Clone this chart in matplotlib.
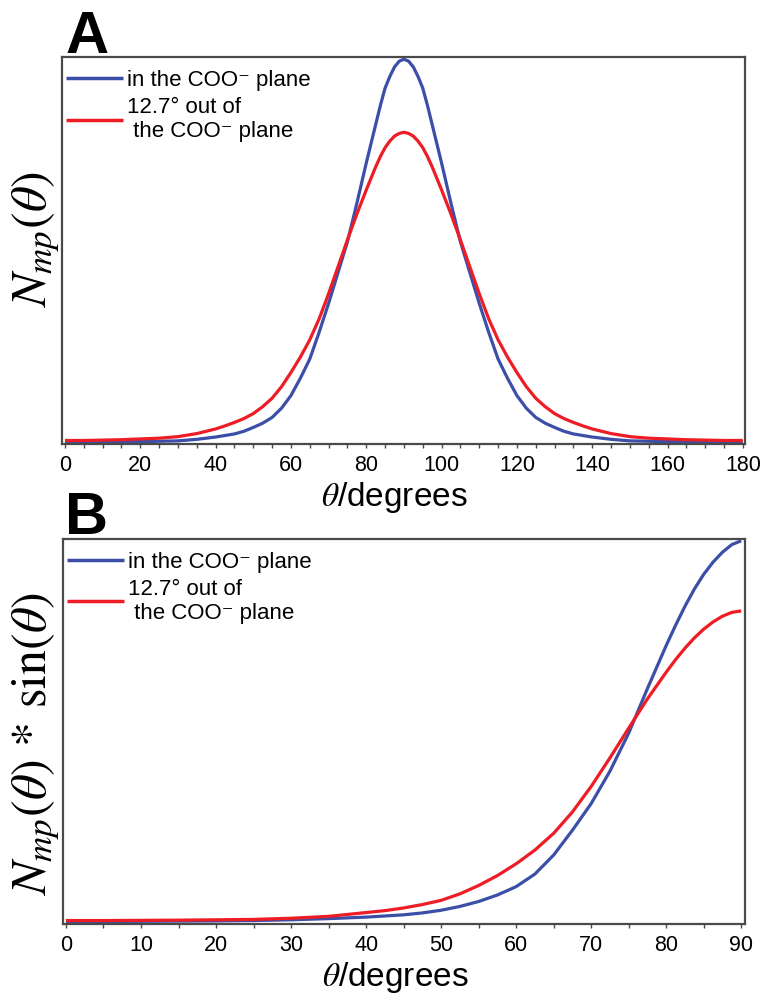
import matplotlib
matplotlib.use("Agg")
import matplotlib.pyplot as plt
from matplotlib.ticker import MultipleLocator

plt.rcParams['mathtext.fontset'] = 'stix'

# ---------------- data ----------------
theta_a = [0, 5, 10, 15, 20, 25, 30, 35, 40, 42.5, 45, 47.5, 50, 52.5, 55, 57.5, 60,
           62.5, 65, 67.5, 70, 72.5, 75, 77.5, 80, 81.25, 82.5, 83.75, 85, 86.25, 87.5,
           88.75, 90, 91.25, 92.5, 93.75, 95, 96.25, 97.5, 98.75, 100, 102.5, 105,
           107.5, 110, 112.5, 115, 117.5, 120, 122.5, 125, 127.5, 130, 132.5, 135,
           137.5, 140, 145, 150, 155, 160, 165, 170, 175, 180]
blue_a = [0.004, 0.004, 0.004, 0.005, 0.005, 0.006, 0.007, 0.011, 0.017, 0.021, 0.025,
          0.032, 0.042, 0.053, 0.068, 0.092, 0.125, 0.17, 0.22, 0.29, 0.365, 0.445,
          0.525, 0.625, 0.73, 0.78, 0.83, 0.88, 0.925, 0.955, 0.98, 0.995, 1.0, 0.995,
          0.98, 0.955, 0.925, 0.88, 0.83, 0.78, 0.73, 0.625, 0.525, 0.445, 0.365, 0.29,
          0.22, 0.17, 0.125, 0.092, 0.068, 0.053, 0.042, 0.032, 0.025, 0.021, 0.017,
          0.011, 0.007, 0.006, 0.005, 0.005, 0.004, 0.004, 0.004]
red_a = [0.008, 0.008, 0.009, 0.010, 0.012, 0.014, 0.018, 0.026, 0.038, 0.046, 0.055,
         0.065, 0.078, 0.096, 0.118, 0.148, 0.185, 0.225, 0.27, 0.325, 0.39, 0.46,
         0.53, 0.597, 0.66, 0.69, 0.72, 0.747, 0.77, 0.787, 0.80, 0.807, 0.81, 0.807,
         0.80, 0.787, 0.77, 0.747, 0.72, 0.69, 0.66, 0.597, 0.53, 0.46, 0.39, 0.325,
         0.27, 0.225, 0.185, 0.148, 0.118, 0.096, 0.078, 0.065, 0.055, 0.046, 0.038,
         0.026, 0.018, 0.014, 0.012, 0.010, 0.009, 0.008, 0.008]

theta_b = [0, 5, 10, 15, 20, 25, 30, 35, 40, 42.5, 45, 47.5, 50, 52.5, 55, 57.5, 60,
           62.5, 65, 67.5, 70, 72.5, 75, 77.5, 80, 81.25, 82.5, 83.75, 85, 86.25, 87.5,
           88.75, 90]
blue_b = [0.0, 0.0005, 0.001, 0.0015, 0.002, 0.003, 0.005, 0.008, 0.012, 0.015, 0.018,
          0.023, 0.03, 0.04, 0.053, 0.07, 0.092, 0.125, 0.175, 0.24, 0.31, 0.395, 0.495,
          0.612, 0.725, 0.778, 0.828, 0.873, 0.912, 0.944, 0.97, 0.99, 1.0]
red_b = [0.003, 0.003, 0.0035, 0.004, 0.005, 0.006, 0.009, 0.014, 0.024, 0.029, 0.036,
         0.045, 0.056, 0.073, 0.095, 0.121, 0.152, 0.188, 0.232, 0.288, 0.355, 0.43,
         0.508, 0.585, 0.655, 0.688, 0.718, 0.745, 0.768, 0.787, 0.802, 0.812, 0.816]

label_blue = "in the COO\u207b plane"
label_red = "12.7\u00b0 out of\n the COO\u207b plane"
xticks_a = [0, 20, 40, 60, 80, 100, 120, 140, 160, 180]
xticks_b = [0, 10, 20, 30, 40, 50, 60, 70, 80, 90]

BLUE = "#3B4FA8"
RED = "#EE1C25"
FRAME = "#4a4a4a"
SANS = ["Liberation Sans", "DejaVu Sans"]

fig = plt.figure(figsize=(7.68, 9.99), dpi=100)
ax_a = fig.add_axes([0.0807, 0.556, 0.889, 0.3866])
ax_b = fig.add_axes([0.0820, 0.0751, 0.888, 0.3851])


def style(ax, xticks, minor):
    for s in ax.spines.values():
        s.set_color(FRAME)
        s.set_linewidth(1.6)
    ax.set_yticks([])
    ax.set_xticks(xticks)
    ax.xaxis.set_minor_locator(MultipleLocator(minor))
    ax.tick_params(axis='x', which='both', direction='out', length=3, width=1,
                   color=FRAME, pad=5)
    for lab in ax.get_xticklabels():
        lab.set_fontfamily(SANS)
        lab.set_fontsize(15.5)


for ax, th, b, r, xt, xl, yl in [
        (ax_a, theta_a, blue_a, red_a, xticks_a, (-0.8, 180.5), (0, 1.005)),
        (ax_b, theta_b, blue_b, red_b, xticks_b, (-0.4, 90.5), (-0.006, 1.004))]:
    ax.plot(th, b, color=BLUE, lw=2.3, label=label_blue, solid_capstyle='butt')
    ax.plot(th, r, color=RED, lw=2.3, label=label_red, solid_capstyle='butt')
    ax.set_xlim(*xl)
    ax.set_ylim(*yl)
    style(ax, xt, 5)
    leg = ax.legend(loc='upper left', bbox_to_anchor=(0.006, 0.968),
                    frameon=False, prop={'family': SANS, 'size': 16},
                    handlelength=2.55, handletextpad=0.2, borderaxespad=0.0,
                    labelspacing=0.27, borderpad=0.0)
    for line in leg.get_lines():
        line.set_linewidth(2.5)

# x labels
fig.text(0.513, 0.5025, r"$\theta$/degrees", ha='center', va='center',
         fontsize=24, family=SANS)
fig.text(0.515, 0.022, r"$\theta$/degrees", ha='center', va='center',
         fontsize=24, family=SANS)

# y labels
fig.text(0.047, 0.76, r"$N_{mp}(\theta)$", rotation=90, ha='center', va='center',
         fontsize=36)
fig.text(0.047, 0.255, r"$N_{mp}(\theta)\,*\,\mathrm{sin}(\theta)$", rotation=90,
         ha='center', va='center', fontsize=36)

# panel letters
fig.text(0.085, 0.935, "A", fontsize=43, fontweight='bold', family=SANS,
         ha='left', va='bottom')
fig.text(0.085, 0.453, "B", fontsize=43, fontweight='bold', family=SANS,
         ha='left', va='bottom')

fig.savefig("out.png", dpi=100)
